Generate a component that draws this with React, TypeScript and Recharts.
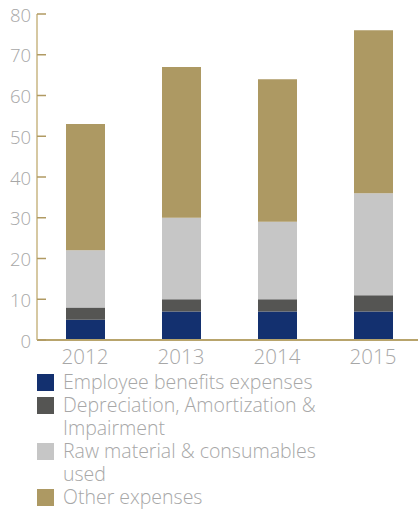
import React from 'react'
import { BarChart, Bar, XAxis, YAxis, Legend } from 'recharts'

const years = ['2012', '2013', '2014', '2015']
const employeeBenefits = [5, 7, 7, 7]
const depreciation = [3, 3, 3, 4]
const rawMaterial = [14, 20, 19, 25]
const otherExpenses = [31, 37, 35, 40]
const yTicks = [0, 10, 20, 30, 40, 50, 60, 70, 80]

const series = [
  { key: 'employee', name: 'Employee benefits expenses', color: '#13306f' },
  { key: 'depreciation', name: 'Depreciation, Amortization & Impairment', color: '#555553' },
  { key: 'raw', name: 'Raw material & consumables used', color: '#c6c6c6' },
  { key: 'other', name: 'Other expenses', color: '#ad9963' },
]

const data = years.map((year, i) => ({
  year,
  employee: employeeBenefits[i],
  depreciation: depreciation[i],
  raw: rawMaterial[i],
  other: otherExpenses[i],
}))

const font = '"Open Sans", sans-serif'
const textGray = '#a7a7a7'

const YTick = (props: any) => {
  const { x, y, payload } = props
  return (
    <g>
      <line x1={x} x2={x + 9} y1={y} y2={y} stroke="#b09a62" strokeWidth={1.5} />
      <text
        x={x - 6}
        y={y}
        textAnchor="end"
        dominantBaseline="central"
        fill={textGray}
        fontSize={18.5}
        fontFamily={font}
        fontWeight={300}
      >
        {payload.value}
      </text>
    </g>
  )
}

const LegendList = () => (
  <div style={{ paddingLeft: 37, fontFamily: font, fontWeight: 300, fontSize: 19.5, color: textGray }}>
    {series.map(s => (
      <div key={s.key} style={{ display: 'flex', alignItems: 'flex-start', lineHeight: '23px' }}>
        <span
          style={{
            display: 'inline-block',
            width: 17,
            height: 17,
            background: s.color,
            marginTop: 4,
            marginRight: 9,
            flexShrink: 0,
          }}
        />
        <span style={{ width: 272 }}>{s.name}</span>
      </div>
    ))}
  </div>
)

const App: React.FC = () => {
  const margin = { top: 14, right: 0, bottom: 0, left: 0 }

  return (
    <div style={{ position: 'absolute', left: 0, top: 0, width: 418, height: 511, overflow: 'hidden' }}>
      <BarChart width={421} height={511} margin={margin} data={data}>
        <XAxis
          dataKey="year"
          height={30}
          axisLine={{ stroke: '#b8a46c', strokeWidth: 2 }}
          tickLine={false}
          tick={{ fill: textGray, fontSize: 20.5, fontFamily: font, fontWeight: 300 }}
          tickMargin={3}
        />
        <YAxis
          width={37}
          domain={[0, 80]}
          ticks={yTicks}
          interval={0}
          tickSize={0}
          tickMargin={0}
          axisLine={{ stroke: '#d6c8a2', strokeWidth: 2 }}
          tickLine={false}
          tick={<YTick />}
        />
        <Legend
          verticalAlign="bottom"
          align="left"
          wrapperStyle={{ height: 141, width: 418, left: 0 }}
          content={<LegendList />}
        />
        {series.map(s => (
          <Bar
            key={s.key}
            dataKey={s.key}
            name={s.name}
            stackId="a"
            fill={s.color}
            barSize={39}
            isAnimationActive={false}
          />
        ))}
      </BarChart>
    </div>
  )
}

export default App
